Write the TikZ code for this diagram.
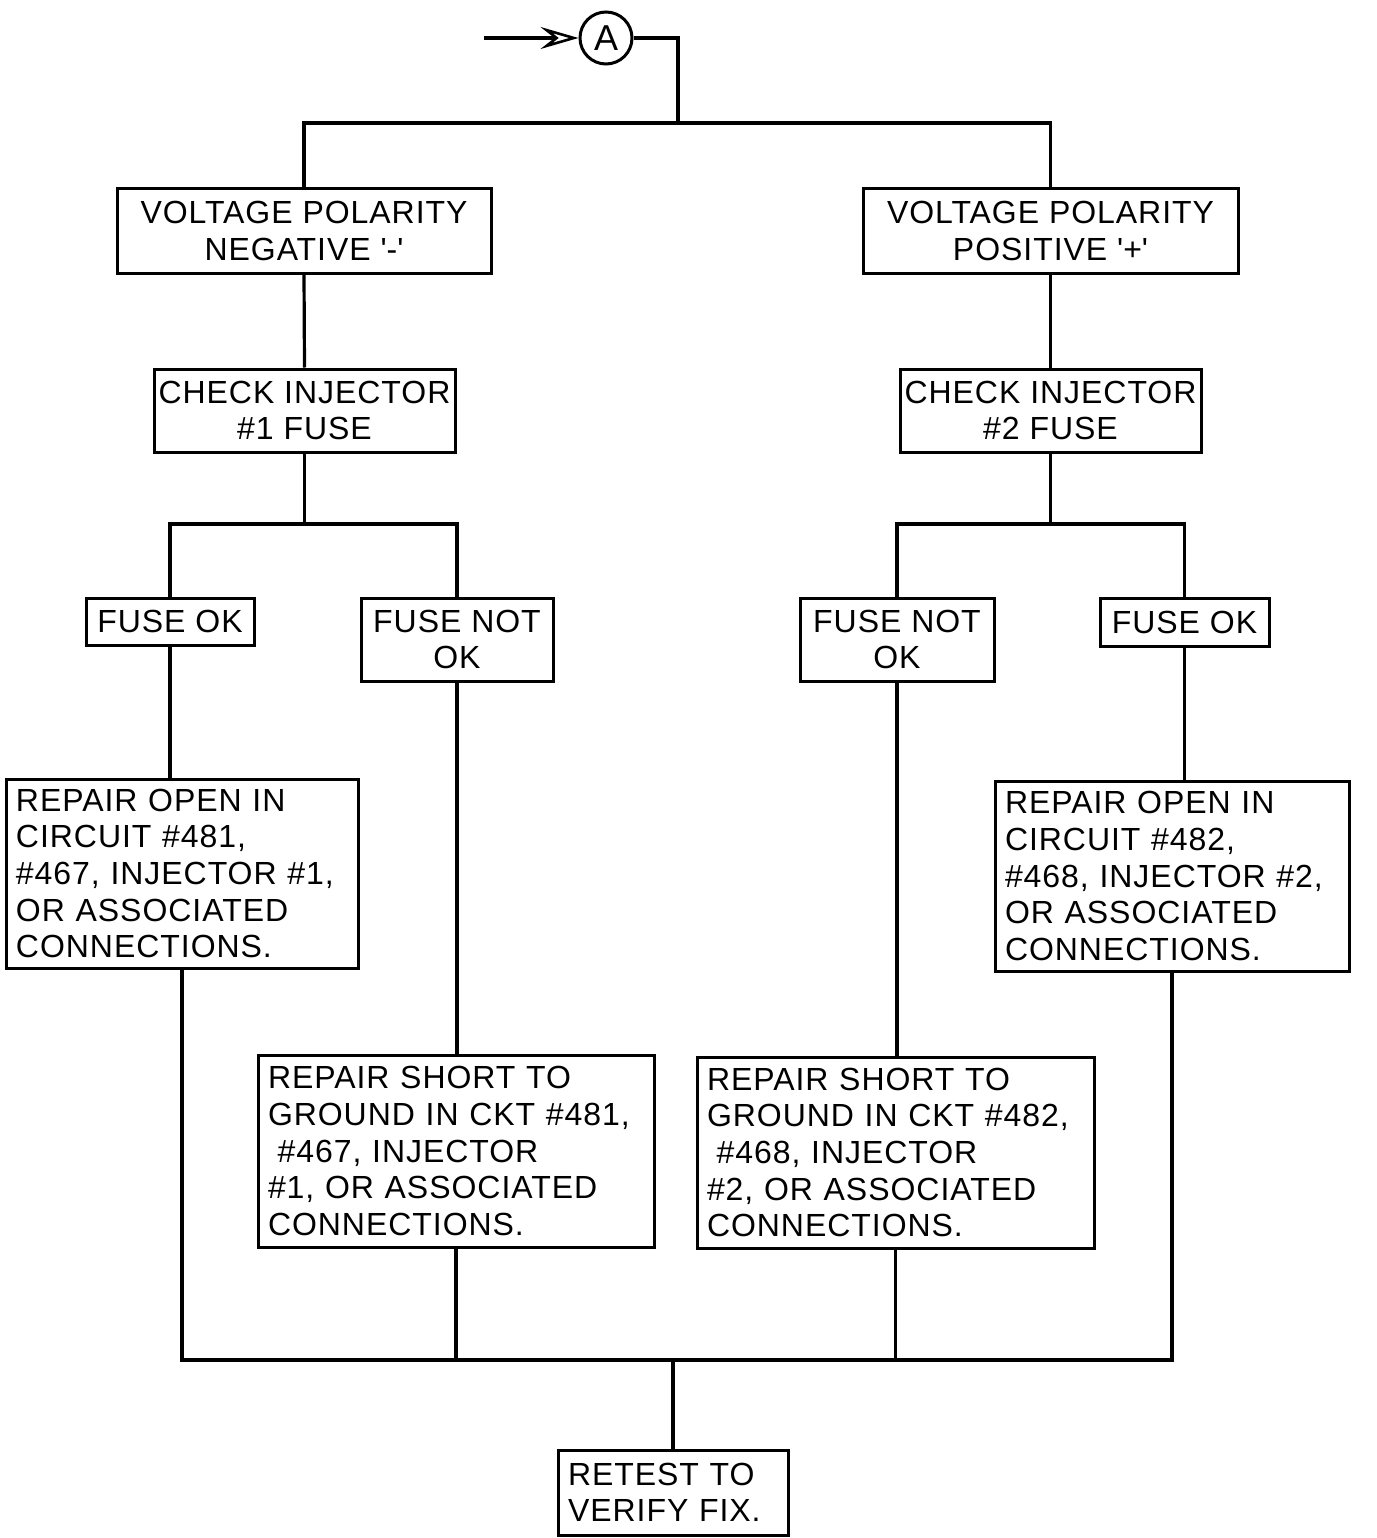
\documentclass[tikz,border=0pt]{standalone}
\usepackage{fontspec}
\setmainfont[LetterSpace=3]{Liberation Sans}
\usetikzlibrary{arrows.meta}
\begin{document}
\begin{tikzpicture}[x=1pt,y=-1pt,
  line width=3.2pt,
  every node/.style={inner sep=0pt},
  box/.style={draw,rectangle,line width=3pt,font=\fontsize{32}{36.6}\selectfont,align=center},
  lbox/.style={draw,rectangle,line width=3pt,font=\fontsize{32}{36.6}\selectfont,align=left,inner xsep=10pt},
  conn/.style={line width=3.2pt}
]
\useasboundingbox (0,0) rectangle (1376,1538);

% entry circle
\node[draw,circle,minimum size=52pt,line width=3pt,font=\fontsize{36}{40}\selectfont] (A) at (606,38) {A};
\coordinate (start) at (484,38);
\draw[conn,-{Stealth[open,length=38pt,width=22pt,inset=14pt,line width=2.6pt]}] (start) -- (A.west);

% boxes
\node[box,minimum width=374pt,minimum height=84pt] (vpn) at (304,231) {VOLTAGE POLARITY\\NEGATIVE \textquotesingle-\textquotesingle};
\node[box,minimum width=375pt,minimum height=84pt] (vpp) at (1050.5,231) {VOLTAGE POLARITY\\POSITIVE \textquotesingle+\textquotesingle};
\node[box,minimum width=301pt,minimum height=83pt] (ci1) at (304.5,410.5) {CHECK INJECTOR\\\#1 FUSE};
\node[box,minimum width=301pt,minimum height=83pt] (ci2) at (1050.5,410.5) {CHECK INJECTOR\\\#2 FUSE};
\node[box,minimum width=168pt,minimum height=47pt] (fok1) at (170,621.5) {FUSE OK};
\node[box,minimum width=192pt,minimum height=83pt] (fnok1) at (457,639.5) {FUSE NOT\\OK};
\node[box,minimum width=194pt,minimum height=83pt] (fnok2) at (897,639.5) {FUSE NOT\\OK};
\node[box,minimum width=169pt,minimum height=48pt] (fok2) at (1184.5,622) {FUSE OK};
\node[lbox,text width=332pt,minimum height=189pt] (ro1) at (182,873.5) {REPAIR OPEN IN\\CIRCUIT \#481,\\\#467, INJECTOR \#1,\\OR ASSOCIATED\\CONNECTIONS.};
\node[lbox,text width=334pt,minimum height=190pt] (ro2) at (1172,876) {REPAIR OPEN IN\\CIRCUIT \#482,\\\#468, INJECTOR \#2,\\OR ASSOCIATED\\CONNECTIONS.};
\node[lbox,text width=376pt,minimum height=192pt] (rs1) at (456,1151) {REPAIR SHORT TO\\GROUND IN CKT \#481,\\\hspace*{0.3em}\#467, INJECTOR\\\#1, OR ASSOCIATED\\CONNECTIONS.};
\node[lbox,text width=377pt,minimum height=191pt] (rs2) at (895.5,1152.5) {REPAIR SHORT TO\\GROUND IN CKT \#482,\\\hspace*{0.3em}\#468, INJECTOR\\\#2, OR ASSOCIATED\\CONNECTIONS.};
\node[lbox,text width=210pt,minimum height=85pt] (rt) at (673,1492.5) {RETEST TO\\VERIFY FIX.};

% junctions
\coordinate (top) at (678,123);
\coordinate (lj) at (304.5,524);
\coordinate (rj) at (1050.5,524);
\coordinate (bus) at (673,1360);

% connectors
\draw[conn] (A.east) -| (top);
\draw[conn] (vpn.north) |- (top);
\draw[conn] (vpp.north) |- (top);
\draw[conn] (vpn.south) -- (ci1.north);
\draw[conn] (vpp.south) -- (ci2.north);
\draw[conn] (ci1.south) -- (lj);
\draw[conn] (fok1.north) |- (lj);
\draw[conn] (fnok1.north) |- (lj);
\draw[conn] (ci2.south) -- (rj);
\draw[conn] (fnok2.north) |- (rj);
\draw[conn] (fok2.north) |- (rj);
\draw[conn] (fok1.south) -- (fok1.south |- ro1.north);
\draw[conn] (fok2.south) -- (fok2.south |- ro2.north);
\draw[conn] (fnok1.south) -- (fnok1.south |- rs1.north);
\draw[conn] (fnok2.south) -- (fnok2.south |- rs2.north);
\draw[conn] (ro1.south) |- (bus);
\draw[conn] (ro2.south) |- (bus);
\draw[conn] (rs1.south) -- (rs1.south |- bus);
\draw[conn] (rs2.south) -- (rs2.south |- bus);
\draw[conn] (bus) -- (rt.north);
\end{tikzpicture}
\end{document}
